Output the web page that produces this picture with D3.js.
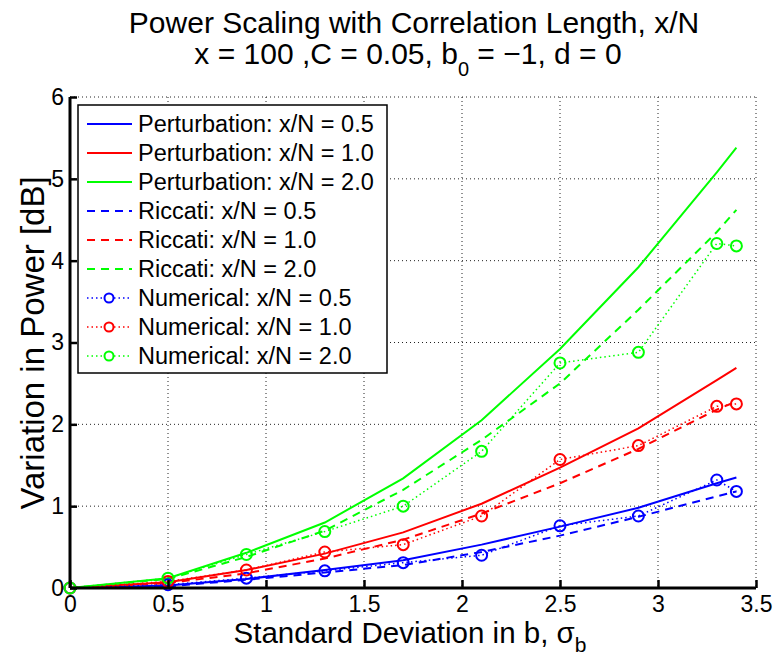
<!DOCTYPE html>
<html lang="en">
<head>
  <meta charset="UTF-8">
  <title>Power Scaling</title>
  <script src="https://cdn.jsdelivr.net/npm/d3@7"></script>
  <style>
    body { margin: 0; background: #fff; }
    svg text { font-family: "Liberation Sans", Arial, Helvetica, sans-serif; fill: #000; }
  </style>
</head>
<body>
<div id="chart"></div>
<script>
// sample points of sigma_b
const sigmas = [0, 0.5, 0.9, 1.3, 1.7, 2.1, 2.5, 2.9, 3.3, 3.4];

const perturb05 = [0, 0.03, 0.11, 0.22, 0.34, 0.53, 0.75, 0.98, 1.28, 1.35];
const perturb10 = [0, 0.07, 0.22, 0.42, 0.68, 1.03, 1.47, 1.95, 2.54, 2.69];
const perturb20 = [0, 0.12, 0.43, 0.80, 1.34, 2.05, 2.92, 3.92, 5.08, 5.38];

const riccati05 = [0, 0.02, 0.10, 0.19, 0.28, 0.44, 0.64, 0.87, 1.12, 1.18];
const riccati10 = [0, 0.06, 0.18, 0.36, 0.59, 0.91, 1.28, 1.70, 2.18, 2.28];
const riccati20 = [0, 0.11, 0.38, 0.70, 1.20, 1.81, 2.50, 3.40, 4.35, 4.62];

const numer05 = [0, 0.04, 0.12, 0.21, 0.31, 0.40, 0.76, 0.88, 1.32, 1.18];
const numer10 = [0, 0.08, 0.22, 0.44, 0.53, 0.88, 1.57, 1.74, 2.22, 2.25];
const numer20 = [0, 0.12, 0.41, 0.69, 1.00, 1.67, 2.75, 2.88, 4.21, 4.18];

const xTicks = [0, 0.5, 1, 1.5, 2, 2.5, 3, 3.5];
const yTicks = [0, 1, 2, 3, 4, 5, 6];

const series = [
  { name: "Perturbation: x/N = 0.5", values: perturb05, color: "#0000ff", kind: "solid" },
  { name: "Perturbation: x/N = 1.0", values: perturb10, color: "#ff0000", kind: "solid" },
  { name: "Perturbation: x/N = 2.0", values: perturb20, color: "#00ff00", kind: "solid" },
  { name: "Riccati: x/N = 0.5", values: riccati05, color: "#0000ff", kind: "dashed" },
  { name: "Riccati: x/N = 1.0", values: riccati10, color: "#ff0000", kind: "dashed" },
  { name: "Riccati: x/N = 2.0", values: riccati20, color: "#00ff00", kind: "dashed" },
  { name: "Numerical: x/N = 0.5", values: numer05, color: "#0000ff", kind: "dotted" },
  { name: "Numerical: x/N = 1.0", values: numer10, color: "#ff0000", kind: "dotted" },
  { name: "Numerical: x/N = 2.0", values: numer20, color: "#00ff00", kind: "dotted" }
];

const width = 774, height = 661;
const margin = { top: 97, right: 18, bottom: 73, left: 70 };
const w = width - margin.left - margin.right;
const h = height - margin.top - margin.bottom;

const svg = d3.select("#chart").append("svg")
  .attr("width", width)
  .attr("height", height);

const x = d3.scaleLinear().domain([0, 3.5]).range([0, w]);
const y = d3.scaleLinear().domain([0, 6]).range([h, 0]);

const g = svg.append("g")
  .attr("transform", `translate(${margin.left},${margin.top})`);

// grid
g.append("g").selectAll("line")
  .data(xTicks.filter(d => d > 0))
  .join("line")
  .attr("x1", d => x(d)).attr("x2", d => x(d))
  .attr("y1", 0).attr("y2", h)
  .attr("stroke", "#222").attr("stroke-width", 1)
  .attr("stroke-dasharray", "1,3");
g.append("g").selectAll("line")
  .data(yTicks.filter(d => d > 0))
  .join("line")
  .attr("x1", 0).attr("x2", w)
  .attr("y1", d => y(d)).attr("y2", d => y(d))
  .attr("stroke", "#222").attr("stroke-width", 1)
  .attr("stroke-dasharray", "1,3");

const dashes = { solid: null, dashed: "8,6", dotted: "1.5,3" };
const widths = { solid: 2, dashed: 2, dotted: 1.5 };

const line = d3.line()
  .x((d, i) => x(sigmas[i]))
  .y(d => y(d));

series.forEach(s => {
  g.append("path")
    .datum(s.values)
    .attr("d", line)
    .attr("fill", "none")
    .attr("stroke", s.color)
    .attr("stroke-width", widths[s.kind])
    .attr("stroke-dasharray", dashes[s.kind]);
});

series.filter(s => s.kind === "dotted").forEach(s => {
  g.append("g").selectAll("circle")
    .data(s.values)
    .join("circle")
    .attr("cx", (d, i) => x(sigmas[i]))
    .attr("cy", d => y(d))
    .attr("r", 5.5)
    .attr("fill", "none")
    .attr("stroke", s.color)
    .attr("stroke-width", 2);
});

// axes (left and bottom only, ticks inward)
const xAxis = g.append("g")
  .attr("transform", `translate(0,${h})`)
  .call(d3.axisBottom(x).tickValues(xTicks).tickSize(-8).tickPadding(8).tickFormat(d3.format("")));
const yAxis = g.append("g")
  .call(d3.axisLeft(y).tickValues(yTicks).tickSize(-7).tickPadding(6).tickFormat(d3.format("")));

[xAxis, yAxis].forEach(a => {
  a.select(".domain").attr("stroke", "#000").attr("stroke-width", 3);
  a.selectAll(".tick line").attr("stroke", "#000").attr("stroke-width", 2.5);
  a.selectAll(".tick text")
    .style("font-family", "'Liberation Sans', Arial, sans-serif")
    .style("font-size", "23px")
    .attr("fill", "#000");
});
xAxis.select(".domain").attr("d", `M0,0H${w}`);
yAxis.select(".domain").attr("d", `M0,${h}V0`);

// legend
const lg = g.append("g").attr("transform", "translate(8,8)");
const rowH = 29;
lg.append("rect")
  .attr("width", 309)
  .attr("height", 268)
  .attr("fill", "#fff")
  .attr("stroke", "#000")
  .attr("stroke-width", 1.5);

const rows = lg.selectAll("g.row")
  .data(series)
  .join("g")
  .attr("class", "row")
  .attr("transform", (d, i) => `translate(0,${19 + i * rowH})`);

rows.append("line")
  .attr("x1", 9).attr("x2", 54)
  .attr("y1", 0).attr("y2", 0)
  .attr("stroke", d => d.color)
  .attr("stroke-width", d => widths[d.kind])
  .attr("stroke-dasharray", d => dashes[d.kind]);
rows.filter(d => d.kind === "dotted")
  .append("circle")
  .attr("cx", 31).attr("cy", 0).attr("r", 4.5)
  .attr("fill", "#fff")
  .attr("stroke", d => d.color)
  .attr("stroke-width", 2);
rows.append("text")
  .attr("x", 60)
  .attr("y", 8)
  .style("font-size", "23.5px")
  .text(d => d.name);

// titles
svg.append("text")
  .attr("x", 414).attr("y", 33)
  .attr("text-anchor", "middle")
  .style("font-size", "30px")
  .text("Power Scaling with Correlation Length, x/N");
const t2 = svg.append("text")
  .attr("x", 408).attr("y", 64)
  .attr("text-anchor", "middle")
  .style("font-size", "30px");
t2.append("tspan").text("x = 100 ,C = 0.05, b");
t2.append("tspan").attr("dy", 12).style("font-size", "20px").text("0");
t2.append("tspan").attr("dy", -12).text(" = \u22121, d = 0");

const xl = svg.append("text")
  .attr("x", 410)
  .attr("y", 643)
  .attr("text-anchor", "middle")
  .style("font-size", "29.5px");
xl.append("tspan").text("Standard Deviation in b, \u03c3");
xl.append("tspan").attr("dy", 9).style("font-size", "21px").text("b");

svg.append("text")
  .attr("transform", `translate(44,343) rotate(-90)`)
  .attr("text-anchor", "middle")
  .style("font-size", "33px")
  .text("Variation in Power [dB]");
</script>
</body>
</html>
